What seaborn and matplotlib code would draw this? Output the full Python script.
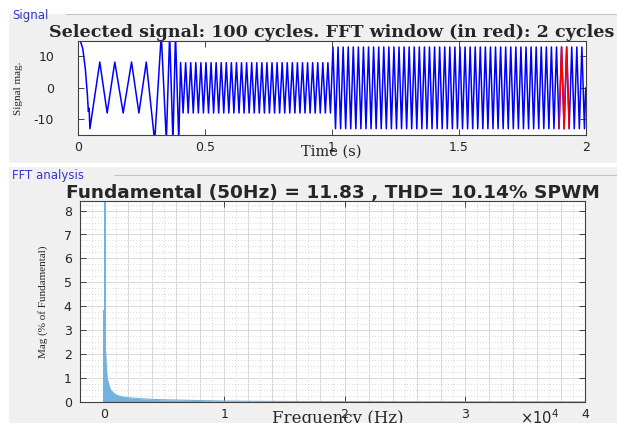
import numpy as np
import matplotlib
matplotlib.use('Agg')
import matplotlib.pyplot as plt
import seaborn as sns
from matplotlib.ticker import MultipleLocator, FuncFormatter
from matplotlib.patches import Rectangle
from matplotlib.lines import Line2D

# ---- time signal: turning points ----
start_t = [0.0, 0.010, 0.020, 0.030, 0.038, 0.042, 0.045, 0.048, 0.087, 0.116, 0.146, 0.179,
           0.212, 0.241, 0.270, 0.303, 0.329, 0.349, 0.362, 0.375, 0.385, 0.398]
start_v = [15.3, 15.0, 12.5, 6.0, -2.0, -7.5, -6.5, -13.0, 8.2, -8.0, 8.2, -8.0,
           8.2, -8.0, 8.2, -17.0, 17.0, -17.0, 17.0, -17.0, 17.0, -17.0]
mid_amp = 8.0      # 0.4 s .. 1.0 s
late_amp = 13.0    # 1.0 s .. 2.0 s
mid_t = np.linspace(0.405, 0.995, 60)
mid_v = np.tile([mid_amp, -mid_amp], 30)
late_t = np.linspace(1.005, 1.995, 100)
late_v = np.tile([late_amp, -late_amp], 50)
fft_window = (1.894, 1.936)

# ---- FFT: spikes and decaying envelope (Hz, % of fundamental) ----
spike_f = [0, 50]
spike_mag = [3.83, 100.0]
env_f = [50, 100, 150, 250, 400, 550, 800, 1100, 1500, 2000, 3000, 4500, 7000,
         10000, 14000, 20000, 30000, 40000]
env_mag = [2.6, 2.5, 1.8, 1.0, 0.7, 0.5, 0.36, 0.27, 0.22, 0.18, 0.14, 0.10, 0.07,
           0.04, 0.025, 0.015, 0.01, 0.008]

sig_t = np.concatenate([start_t, mid_t, late_t, [2.0]])
sig_v = np.concatenate([start_v, mid_v, late_v, [0.0]])
win = (sig_t >= fft_window[0]) & (sig_t <= fft_window[1])

sns.set_style('ticks')
plt.rcParams['axes.unicode_minus'] = False
plt.rcParams['font.family'] = ['DejaVu Sans']

W, H = 617, 423
fig = plt.figure(figsize=(W / 100, H / 100), dpi=100, facecolor='#f0f0f0')

def px(x0, y0, x1, y1):
    return [x0 / W, 1 - y1 / H, (x1 - x0) / W, (y1 - y0) / H]

# panel decorations
fig.add_artist(Rectangle((0, 1 - 13 / H), 1, 13 / H, transform=fig.transFigure,
                         color='white', zorder=0))
fig.add_artist(Rectangle((0, 0), 8 / W, 1, transform=fig.transFigure, color='white', zorder=0))
fig.add_artist(Rectangle((0, 1 - 166 / H), 1, 3 / H, transform=fig.transFigure,
                         color='white', zorder=0))
fig.add_artist(Line2D([66 / W, 1], [1 - 14.5 / H] * 2, transform=fig.transFigure,
                      color='#c4c4c4', lw=0.8))
fig.add_artist(Line2D([114 / W, 1], [1 - 175 / H] * 2, transform=fig.transFigure,
                      color='#c4c4c4', lw=0.8))
fig.text(12 / W, 1 - 15 / H, 'Signal', color='#3636c8', fontsize=8.5, va='center')
fig.text(12 / W, 1 - 175 / H, 'FFT analysis', color='#3636c8', fontsize=8.5, va='center')

# ---- top: signal ----
ax1 = fig.add_axes(px(77.7, 40.7, 585.7, 135))
sns.lineplot(x=sig_t, y=sig_v, color='#0000ff', lw=1.1, estimator=None, ax=ax1)
sns.lineplot(x=sig_t[win], y=sig_v[win], color='#ff0000', lw=1.1, estimator=None, ax=ax1)
ax1.set_xlim(0, 2)
ax1.set_ylim(-15, 15)
ax1.set_xticks([0, 0.5, 1, 1.5, 2])
ax1.set_xticklabels(['0', '0.5', '1', '1.5', '2'])
ax1.set_yticks([-10, 0, 10])
ax1.tick_params(axis='x', pad=4)
ax1.tick_params(axis='y', pad=17)
ax1.set_xlabel('Time (s)', family='DejaVu Serif', fontsize=10.5, color='#262626')
ax1.xaxis.set_label_coords(0.5, -0.18)
ax1.xaxis.label.set_va('center')
ax1.set_ylabel('Signal mag.', family='Liberation Serif', fontsize=8, color='#262626')
ax1.yaxis.set_label_coords(-0.1165, 0.5)
ax1.yaxis.label.set_va('center')
fig.text(331.7 / W, 1 - 32.5 / H,
         'Selected signal: 100 cycles. FFT window (in red): 2 cycles',
         family='DejaVu Serif', fontweight='bold', fontsize=12.6, ha='center', va='center')

# ---- bottom: FFT ----
bar_color = '#72b2e0'
ax2 = fig.add_axes(px(80, 201, 585, 402))
ax2.set_axisbelow(True)
ax2.fill_between(env_f, env_mag, color=bar_color, lw=0, zorder=2)
sns.lineplot(x=env_f, y=env_mag, color=bar_color, lw=0.8, estimator=None, ax=ax2, zorder=2)
ax2.bar(spike_f, spike_mag, width=150, color=bar_color, lw=0, zorder=2)
ax2.set_xlim(-2000, 40000)
ax2.set_ylim(0, 8.4)
ax2.xaxis.set_major_locator(MultipleLocator(10000))
ax2.xaxis.set_major_formatter(FuncFormatter(lambda v, p: f'{v / 1e4:g}'))
ax2.xaxis.set_minor_locator(MultipleLocator(1000))
ax2.yaxis.set_major_locator(MultipleLocator(1))
ax2.yaxis.set_minor_locator(MultipleLocator(0.25))
ax2.grid(which='major', color='#d9d9d9', lw=0.7, ls='-')
ax2.grid(which='minor', color='#c8c8c8', lw=0.6, ls=(0, (1, 2.5)))
for xv in np.arange(2000, 40000, 2000):
    ax2.axvline(xv, color='#e0e0e0', lw=0.7, zorder=0.5)
ax2.tick_params(which='minor', length=0)
ax2.tick_params(axis='x', pad=4)
ax2.tick_params(axis='y', pad=6)
ax2.set_xlabel('Frequency (Hz)', family='DejaVu Serif', fontsize=12, color='#262626')
ax2.xaxis.set_label_coords(0.511, -0.08)
ax2.xaxis.label.set_va('center')
ax2.set_ylabel('Mag (% of Fundamental)', family='Liberation Serif', fontsize=8, color='#262626')
ax2.yaxis.set_label_coords(-0.073, 0.5)
ax2.yaxis.label.set_va('center')
fig.text(520 / W, 1 - 418 / H, r'$\times\mathregular{10^4}$', fontsize=10.5,
         color='#262626', va='center')
fig.text(332.5 / W, 1 - 192.5 / H,
         'Fundamental (50Hz) = 11.83 , THD= 10.14% SPWM',
         fontweight='bold', fontsize=13.3, ha='center', va='center')

for ax in (ax1, ax2):
    ax.set_facecolor('white')
    ax.tick_params(which='major', direction='in', top=True, right=True, length=4,
                   width=0.6, color='#262626', labelsize=9, labelcolor='#262626')
    for s in ax.spines.values():
        s.set_visible(True)
        s.set_color('#404040')
        s.set_linewidth(0.8)

fig.savefig('out.png', dpi=100, facecolor=fig.get_facecolor())
